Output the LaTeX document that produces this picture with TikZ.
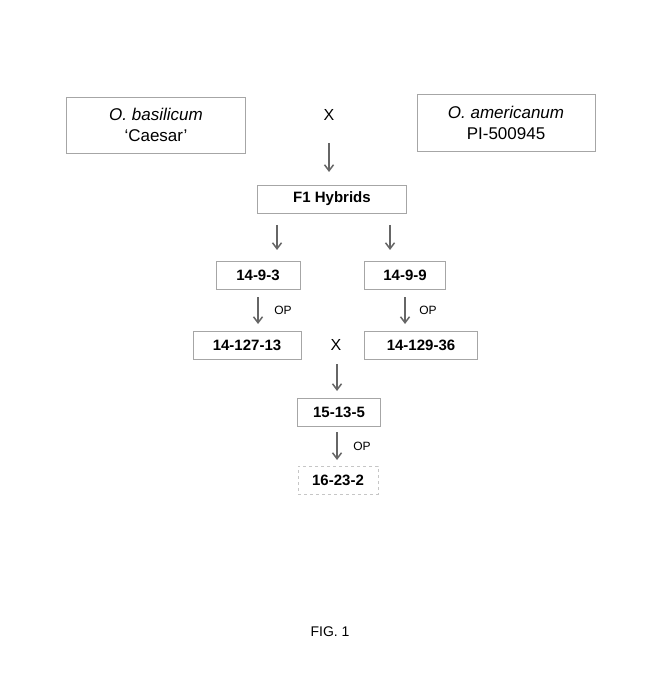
\documentclass[tikz,border=0pt]{standalone}
\usepackage{fontspec}
\setmainfont{Liberation Sans}
\usetikzlibrary{arrows.meta}
\begin{document}
\begin{tikzpicture}[x=1pt,y=-1pt,
  box/.style={draw=gray!70,line width=0.6pt,inner sep=0pt,minimum height=28pt,font=\fontsize{15}{17}\selectfont\bfseries},
  big/.style={draw=gray!70,line width=0.6pt,inner sep=0pt,align=center,font=\fontsize{17}{21}\selectfont},
  arr/.style={draw=gray!80!black,line width=1.8pt,-{Straight Barb[length=6pt,width=9pt,line width=1.5pt]}},
  lab/.style={font=\fontsize{12}{14}\selectfont},
  cross/.style={font=\fontsize{16}{18}\selectfont}]
\useasboundingbox (0,0) rectangle (655,700);
\node[big,minimum width=179pt,minimum height=56pt] (ob) at (156,125) {\textit{O. basilicum}\\‘Caesar’};
\node[big,minimum width=178pt,minimum height=57pt] (oa) at (506,123) {\textit{O. americanum}\\PI-500945};
\node[cross] (x1) at (329,115) {X};
\coordinate (a1s) at (329,143);
\node[box,minimum width=149pt] (f1) at (332,199) {F1 Hybrids};
\draw[arr] (a1s) -- (329,172);
\node[box,minimum width=84pt] (n1) at (258,275) {14-9-3};
\node[box,minimum width=81pt] (n2) at (405,275) {14-9-9};
\coordinate (b1) at (277,225); \coordinate (b2) at (390,225);
\draw[arr] (b1) -- (277,250);
\draw[arr] (b2) -- (390,250);
\node[box,minimum width=108pt] (n3) at (247,345) {14-127-13};
\node[box,minimum width=113pt] (n4) at (421,345) {14-129-36};
\draw[arr] (258,297) -- (258,324);
\draw[arr] (405,297) -- (405,324);
\node[lab] (op1) at (283,310) {OP};
\node[lab] (op2) at (428,310) {OP};
\node[cross] (x2) at (336,345) {X};
\node[box,minimum width=83pt] (n5) at (339,412) {15-13-5};
\draw[arr] (337,364) -- (337,391);
\node[box,minimum width=80pt,draw=gray!45,dashed] (n6) at (338,480) {16-23-2};
\draw[arr] (337,432) -- (337,460);
\node[lab] (op3) at (362,446) {OP};
\node[font=\fontsize{14}{16}\selectfont] (fig) at (330,632) {FIG. 1};
\end{tikzpicture}
\end{document}
